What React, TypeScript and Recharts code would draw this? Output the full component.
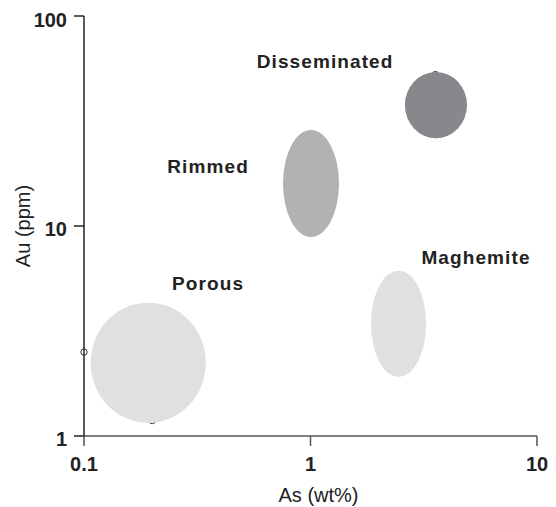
import { ScatterChart, Scatter, XAxis, YAxis, ReferenceArea, Label } from 'recharts';

// ore-type zones: extent of each field in As (wt%) and Au (ppm)
const zoneNames = ['Porous', 'Rimmed', 'Disseminated', 'Maghemite'];
const zoneAsMin = [0.107, 0.756, 2.61, 1.85];
const zoneAsMax = [0.345, 1.336, 4.91, 3.24];
const zoneAuMin = [1.157, 8.86, 26.2, 1.916];
const zoneAuMax = [4.31, 28.65, 54.1, 6.12];
const zoneColors = ['#dfe0e2', '#b1b2b4', '#87888b', '#dfe0e2'];

// label anchors (text baseline centre) in data units
const labelNames = ['Disseminated', 'Rimmed', 'Porous', 'Maghemite'];
const labelAs = [1.16, 0.353, 0.353, 5.38];
const labelAu = [56.4, 17.9, 4.95, 6.59];

// stray sample markers, mostly hidden behind the fields
const sampleAs = [0.1, 0.2, 3.56];
const sampleAu = [2.51, 1.185, 52.6];

const xTicks = [0.1, 1, 10];
const yTicks = [1, 10, 100];

const FONT = '"Liberation Sans", Arial, Helvetica, sans-serif';

const labelData = labelNames.map((name, i) => ({ name, x: labelAs[i], y: labelAu[i] }));

const zones = zoneNames.map((name, i) => ({
  name,
  x1: zoneAsMin[i],
  x2: zoneAsMax[i],
  y1: zoneAuMin[i],
  y2: zoneAuMax[i],
  color: zoneColors[i],
}));

const fmt = (v: number) => (v < 1 ? String(v) : String(Math.round(v)));

function XTick(props: any) {
  const { x, y, payload } = props;
  return (
    <text x={x} y={y} dy={23} textAnchor="middle" fontFamily={FONT} fontSize={20} fontWeight="bold" fill="#222">
      {fmt(payload.value)}
    </text>
  );
}

function YTick(props: any) {
  const { x, y, payload } = props;
  return (
    <text x={x - 5} y={y} dy={10} textAnchor="end" fontFamily={FONT} fontSize={20} fontWeight="bold" fill="#222">
      {fmt(payload.value)}
    </text>
  );
}

function Ellipse(props: any) {
  const { x, y, width, height, fill } = props;
  if (x == null || y == null) return null;
  const w = Math.abs(width);
  const h = Math.abs(height);
  return <ellipse cx={x + w / 2} cy={y + h / 2} rx={w / 2} ry={h / 2} fill={fill} stroke="none" />;
}

// a zero-size area drawn as a small open circle, so it sits under the fields
function Marker(props: any) {
  const { x, y, width, height } = props;
  if (x == null || y == null) return null;
  return (
    <circle cx={x + (width || 0) / 2} cy={y + (height || 0) / 2} r={3.2} fill="#fff" stroke="#333" strokeWidth={1} />
  );
}

function ZoneLabel(props: any) {
  const { cx, cy, payload } = props;
  if (cx == null || cy == null) return null;
  return (
    <text
      x={cx}
      y={cy}
      textAnchor="middle"
      fontFamily={FONT}
      fontSize={19}
      letterSpacing={1.1}
      fontWeight="bold"
      fill="#222"
    >
      {payload?.name}
    </text>
  );
}

export default function App() {
  return (
    <ScatterChart width={540} height={499} margin={{ top: 8, right: 11, left: 0, bottom: 0 }}>
      <XAxis
        type="number"
        dataKey="x"
        scale="log"
        domain={[0.1, 10]}
        ticks={xTicks}
        allowDataOverflow
        height={71}
        tickSize={10}
        axisLine={{ stroke: '#555', strokeWidth: 1.5 }}
        tickLine={{ stroke: '#555', strokeWidth: 1.5 }}
        tick={<XTick />}
      >
        <Label
          content={({ viewBox }: any) => (
            <text
              x={viewBox.x + viewBox.width / 2 + 8}
              y={viewBox.y + 66}
              textAnchor="middle"
              fontFamily={FONT}
              fontSize={20}
              fill="#222"
            >
              As (wt%)
            </text>
          )}
        />
      </XAxis>
      <YAxis
        type="number"
        dataKey="y"
        scale="log"
        domain={[1, 100]}
        ticks={yTicks}
        allowDataOverflow
        width={76}
        tickSize={10}
        axisLine={{ stroke: '#222', strokeWidth: 1.5 }}
        tickLine={{ stroke: '#222', strokeWidth: 1.5 }}
        tick={<YTick />}
      >
        <Label
          content={({ viewBox }: any) => {
            const cx = 22;
            const cy = viewBox.y + viewBox.height / 2;
            return (
              <text
                x={cx}
                y={cy}
                transform={`rotate(-90, ${cx}, ${cy})`}
                textAnchor="middle"
                fontFamily={FONT}
                fontSize={20}
                fill="#222"
              >
                Au (ppm)
              </text>
            );
          }}
        />
      </YAxis>
      {sampleAs.map((x, i) => (
        <ReferenceArea
          key={`s-${i}`}
          x1={x}
          x2={x}
          y1={sampleAu[i]}
          y2={sampleAu[i]}
          ifOverflow="hidden"
          shape={<Marker />}
        />
      ))}
      {zones.map((z) => (
        <ReferenceArea
          key={z.name}
          x1={z.x1}
          x2={z.x2}
          y1={z.y1}
          y2={z.y2}
          fill={z.color}
          fillOpacity={1}
          stroke="none"
          ifOverflow="visible"
          shape={<Ellipse />}
        />
      ))}
      <Scatter data={labelData} shape={<ZoneLabel />} isAnimationActive={false} />
    </ScatterChart>
  );
}
